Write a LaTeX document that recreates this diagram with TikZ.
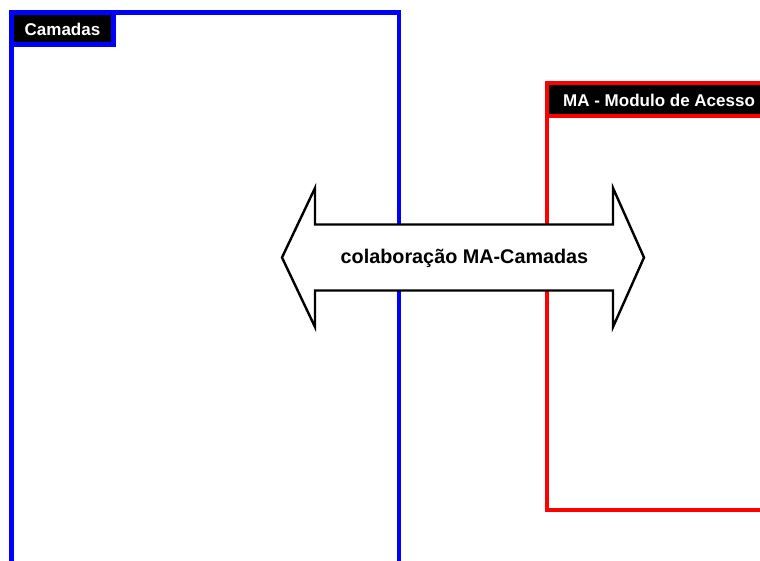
\documentclass[tikz,border=0pt]{standalone}
\usepackage{fontspec}
\setmainfont{Liberation Sans}
\begin{document}
\begin{tikzpicture}[x=1pt,y=-1pt,
  frame/.style={line width=4.5pt},
  tagbox/.style={frame, fill=black},
  tag/.style={text=white, font=\bfseries\fontsize{17}{20}\selectfont, inner sep=0pt},
  bigarrow/.style={draw=black, fill=white, line width=2.4pt, line join=miter},
  arrowtext/.style={font=\bfseries\fontsize{19.8}{23}\selectfont, inner sep=0pt}]
\useasboundingbox (0,0) rectangle (760,560);
\clip (0,0) rectangle (760,560);

% Camadas frame and its tag
\draw[frame, draw=blue] (11.5,12.5) rectangle (399,600);
\draw[tagbox, draw=blue] (11.5,12.5) rectangle (113.5,44.5);
\node[tag, anchor=base] (camadas) at (62.5,35) {Camadas};

% MA frame and its tag
\draw[frame, draw=red] (547,83) rectangle (800,510);
\draw[tagbox, draw=red] (547,83) rectangle (800,116);
\node[tag, anchor=base west] (ma) at (563,106) {MA - Modulo de Acesso};

% double-headed collaboration arrow
\draw[bigarrow] (282,257.5) -- (315,188) -- (315,224.5) -- (613,224.5)
  -- (613,188) -- (644,257.5) -- (613,327) -- (613,290.5) -- (315,290.5)
  -- (315,327) -- cycle;
\node[arrowtext, anchor=base] (colab) at (464.5,263) {colaboração MA-Camadas};
\end{tikzpicture}
\end{document}
